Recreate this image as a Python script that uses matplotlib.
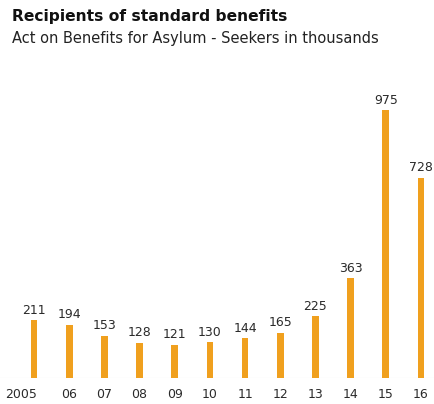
import matplotlib.pyplot as plt
from matplotlib.transforms import ScaledTranslation

years = ["2005", "06", "07", "08", "09", "10", "11", "12", "13", "14", "15", "16"]
recipients = [211, 194, 153, 128, 121, 130, 144, 165, 225, 363, 975, 728]

plt.rcParams['font.family'] = ['DejaVu Sans']

fig = plt.figure(figsize=(4.35, 4.04), dpi=100)
ax = fig.add_axes([0, 26 / 404, 1, 318 / 404])

x = list(range(len(years)))
ax.bar(x, recipients, width=0.19, color='#f0a01e', zorder=2)
for xi, v in zip(x, recipients):
    ax.annotate(str(v), (xi, v), xytext=(0, 2.5), textcoords='offset points',
                ha='center', va='bottom', fontsize=9, color='#2a2a2a')

ax.set_xlim(-34 / 35.18, (435 - 34) / 35.18)
ax.set_ylim(0, 1157)
ax.axhline(0, color='#e4e4e4', lw=0.8, zorder=1)
for s in ax.spines.values():
    s.set_visible(False)
ax.set_yticks([])
ax.set_xticks(x)
ax.set_xticklabels(years, fontsize=9, color='#2a2a2a')
ax.tick_params(axis='x', length=0, pad=7)

# the first year label sits a little left of its bar
first = ax.get_xticklabels()[0]
first.set_transform(first.get_transform() + ScaledTranslation(-13 / 100, 0, fig.dpi_scale_trans))

fig.text(12 / 435, 1 - 17 / 404, "Recipients of standard benefits",
         fontsize=11.2, fontweight='bold', color='#111111', va='center')
fig.text(12 / 435, 1 - 39 / 404, "Act on Benefits for Asylum - Seekers in thousands",
         fontsize=10.5, color='#222222', va='center')

fig.savefig('out.png', dpi=100)
